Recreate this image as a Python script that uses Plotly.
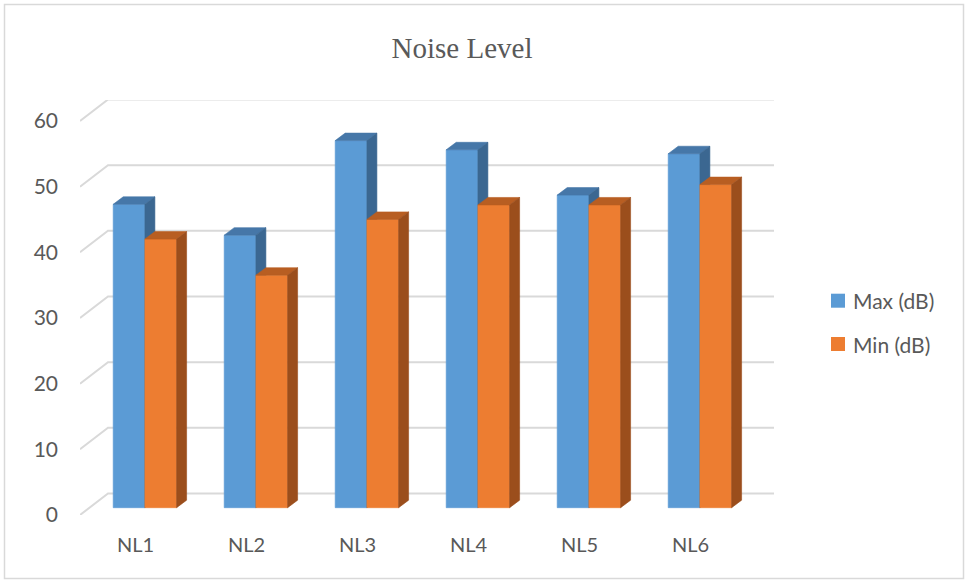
import plotly.graph_objects as go

# ---- data -------------------------------------------------------------
categories = ["NL1", "NL2", "NL3", "NL4", "NL5", "NL6"]
max_db = [46.2, 41.5, 55.9, 54.5, 47.6, 53.9]
min_db = [40.9, 35.4, 43.9, 46.1, 46.1, 49.2]
series_names = ["Max (dB)", "Min (dB)"]
y_ticks = [0, 10, 20, 30, 40, 50, 60]

# ---- layout geometry (pixels) ----------------------------------------
W, H = 965, 581
ML, MR, MT, MB = 80, 191, 100, 66
PLOT_W = W - ML - MR
PLOT_H = H - MT - MB
PX_PER_CAT = 111.0          # horizontal pixels per category
PX_PER_UNIT = 6.567         # vertical pixels per dB

def ux(px):
    return px / PX_PER_CAT

def uy(px):
    return px / PX_PER_UNIT

# pseudo-3D depth offsets, expressed in axis units
WALL_DX, WALL_DY = ux(28), uy(21.5)     # front plane -> back wall
BAR_FX, BAR_FY = ux(9.4), uy(7.3)       # front plane -> bar front face
BAR_DX, BAR_DY = ux(10), uy(7.5)        # bar depth
BAR_W = ux(31.7)

x_range = [-0.5, -0.5 + ux(PLOT_W)]
y_range = [0, uy(PLOT_H)]

styles = [
    dict(front="#5B9BD5", top="#4677A8", side="#3B6791"),
    dict(front="#ED7D31", top="#B85E22", side="#9B4E1C"),
]
GRID = "#D9D9D9"
TEXT = "#595959"

fig = go.Figure()

# back-wall gridlines plus the receding strokes to the value axis
gx, gy = [], []
for v in y_ticks:
    gx += [-0.5, -0.5 + WALL_DX, x_range[1], None]
    gy += [v, v + WALL_DY, v + WALL_DY, None]
fig.add_trace(go.Scatter(x=gx, y=gy, mode="lines",
                         line=dict(color=GRID, width=2),
                         hoverinfo="skip", showlegend=False))

def faces(values, k):
    fx, fy, tx, ty, sx, sy = [], [], [], [], [], []
    for i, v in enumerate(values):
        x0 = i + BAR_FX - BAR_W + k * BAR_W
        x1 = x0 + BAR_W
        b = BAR_FY
        t = BAR_FY + v
        fx += [x0, x1, x1, x0, x0, None]
        fy += [b, b, t, t, b, None]
        tx += [x0, x0 + BAR_DX, x1 + BAR_DX, x1, x0, None]
        ty += [t, t + BAR_DY, t + BAR_DY, t, t, None]
        sx += [x1, x1 + BAR_DX, x1 + BAR_DX, x1, x1, None]
        sy += [b, b + BAR_DY, t + BAR_DY, t, b, None]
    return (fx, fy), (tx, ty), (sx, sy)

for k, (name, values) in enumerate(zip(series_names, [max_db, min_db])):
    st = styles[k]
    front, top, side = faces(values, k)
    for (xs, ys), col in ((front, st["front"]), (top, st["top"]), (side, st["side"])):
        fig.add_trace(go.Scatter(
            x=xs, y=ys, mode="lines", fill="toself", fillcolor=col,
            line=dict(color=col, width=0.6), name=name,
            hoverinfo="skip", showlegend=False))

# helper: pixel -> paper coordinates
def paper_x(px):
    return (px - ML) / PLOT_W

def paper_y(py):
    return (H - MB - py) / PLOT_H

shapes = [dict(type="rect", xref="paper", yref="paper",
               x0=paper_x(4.5), x1=paper_x(963.5),
               y0=paper_y(578.5), y1=paper_y(4.5),
               line=dict(color=GRID, width=1.5), fillcolor="rgba(0,0,0,0)",
               layer="below")]
annotations = []
for k, name in enumerate(series_names):
    cy = 300.7 + k * 43.3
    shapes.append(dict(type="rect", xref="paper", yref="paper",
                       x0=paper_x(831), x1=paper_x(845),
                       y0=paper_y(cy + 7), y1=paper_y(cy - 7),
                       line=dict(width=0), fillcolor=styles[k]["front"]))
    annotations.append(dict(text=name, xref="paper", yref="paper",
                            x=paper_x(851), y=paper_y(cy),
                            xanchor="left", yanchor="middle", showarrow=False,
                            font=dict(family="Lato", size=21, color=TEXT)))

fig.update_layout(
    width=W, height=H,
    margin=dict(l=ML, r=MR, t=MT, b=MB),
    paper_bgcolor="white", plot_bgcolor="white",
    showlegend=False,
    title=dict(text="Noise Level", x=462 / W, xref="container", xanchor="center",
               y=1 - 48 / H, yref="container", yanchor="middle",
               font=dict(family="Liberation Serif", size=29, color=TEXT)),
    xaxis=dict(range=x_range, tickvals=list(range(len(categories))),
               ticktext=categories, showgrid=False, zeroline=False,
               showline=False, ticks="", ticklabelstandoff=16,
               tickfont=dict(family="Lato", size=20, color=TEXT),
               fixedrange=True),
    yaxis=dict(range=y_range, tickvals=y_ticks, showgrid=False,
               zeroline=False, showline=False, ticks="",
               ticklabelstandoff=21,
               tickfont=dict(family="Lato", size=21, color=TEXT),
               fixedrange=True),
    shapes=shapes, annotations=annotations,
)

fig.write_html("out.html")
